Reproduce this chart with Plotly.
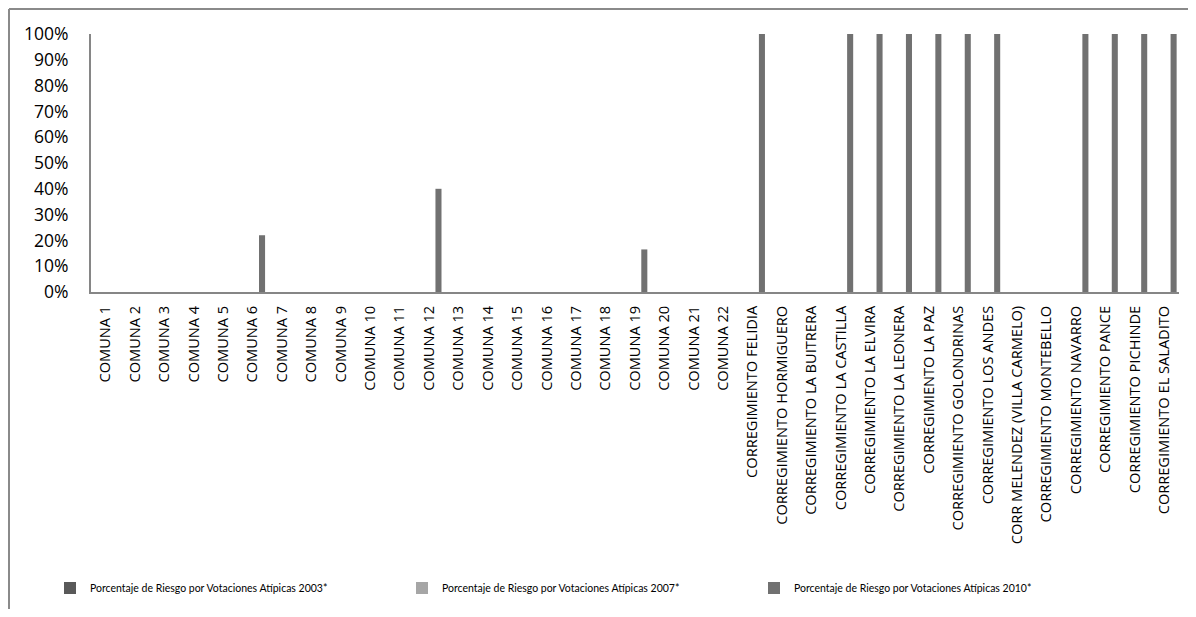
import plotly.graph_objects as go

categories = [
    "COMUNA 1", "COMUNA 2", "COMUNA 3", "COMUNA 4", "COMUNA 5", "COMUNA 6",
    "COMUNA 7", "COMUNA 8", "COMUNA 9", "COMUNA 10", "COMUNA 11", "COMUNA 12",
    "COMUNA 13", "COMUNA 14", "COMUNA 15", "COMUNA 16", "COMUNA 17", "COMUNA 18",
    "COMUNA 19", "COMUNA 20", "COMUNA 21", "COMUNA 22",
    "CORREGIMIENTO FELIDIA", "CORREGIMIENTO HORMIGUERO", "CORREGIMIENTO LA BUITRERA",
    "CORREGIMIENTO LA CASTILLA", "CORREGIMIENTO LA ELVIRA", "CORREGIMIENTO LA LEONERA",
    "CORREGIMIENTO LA PAZ", "CORREGIMIENTO GOLONDRINAS", "CORREGIMIENTO LOS ANDES",
    "CORR MELENDEZ (VILLA CARMELO)", "CORREGIMIENTO MONTEBELLO", "CORREGIMIENTO NAVARRO",
    "CORREGIMIENTO PANCE", "CORREGIMIENTO PICHINDE", "CORREGIMIENTO EL SALADITO",
]

riesgo_2003 = [0] * 37
riesgo_2007 = [0] * 37
riesgo_2010 = [
    0, 0, 0, 0, 0, 0.22, 0, 0, 0, 0, 0, 0.40, 0, 0, 0, 0, 0, 0, 0.165, 0, 0, 0,
    1, 0, 0, 1, 1, 1, 1, 1, 1, 0, 0, 1, 1, 1, 1,
]

series_names = [
    "Porcentaje de Riesgo por Votaciones Atípicas 2003*",
    "Porcentaje de Riesgo por Votaciones Atípicas 2007*",
    "Porcentaje de Riesgo por Votaciones Atípicas 2010*",
]
series_colors = ["#595959", "#a6a6a6", "#717171"]

# page body adds an 8px margin, so the figure is laid out in page pixels minus 8
OFF = 8
W, H = 1196 - 2 * OFF, 617 - 2 * OFF
ML, MR, MT, MB = 91 - OFF, W - (1179 - OFF), 34 - OFF, H - (293 - OFF)
PW, PH = W - ML - MR, H - MT - MB

def px_x(p):
    return (p - OFF - ML) / PW

def px_y(p):
    return (H - MB - (p - OFF)) / PH

fig = go.Figure()
for name, vals, col in zip(series_names, [riesgo_2003, riesgo_2007, riesgo_2010], series_colors):
    fig.add_trace(go.Bar(x=categories, y=vals, name=name,
                         marker=dict(color=col, line=dict(width=0))))

fig.update_layout(
    width=W, height=H,
    margin=dict(l=ML, r=MR, t=MT, b=MB),
    paper_bgcolor="white", plot_bgcolor="white",
    barmode="group", bargap=0.05, bargroupgap=0.35,
    font=dict(family="Open Sans", color="#000000"),
    showlegend=True,
    legend=dict(orientation="h", x=px_x(50), xanchor="left", y=px_y(588), yanchor="middle",
                font=dict(family="Lato", size=10.5, color="#000000"),
                itemwidth=30, entrywidth=307, entrywidthmode="pixels",
                bgcolor="rgba(0,0,0,0)"),
    shapes=[
        dict(type="line", xref="paper", yref="paper", x0=px_x(9), x1=px_x(1200),
             y0=px_y(9), y1=px_y(9), line=dict(color="#8a8a8a", width=2)),
        dict(type="line", xref="paper", yref="paper", x0=px_x(9), x1=px_x(9),
             y0=px_y(9), y1=px_y(620), line=dict(color="#8a8a8a", width=2)),
    ],
)
fig.update_xaxes(type="category", tickangle=-90, showgrid=False, showline=True,
                 linecolor="#868686", linewidth=2, ticks="",
                 tickfont=dict(family="Open Sans", size=14.6, color="#000000"),
                 ticklabelstandoff=6)
fig.update_yaxes(range=[0, 1], tickformat=".0%", dtick=0.1, showgrid=False,
                 showline=True, linecolor="#868686", linewidth=2, ticks="",
                 zeroline=False,
                 tickfont=dict(family="Open Sans", size=17.5, color="#000000"),
                 ticklabelstandoff=17)

fig.write_html("out.html")
